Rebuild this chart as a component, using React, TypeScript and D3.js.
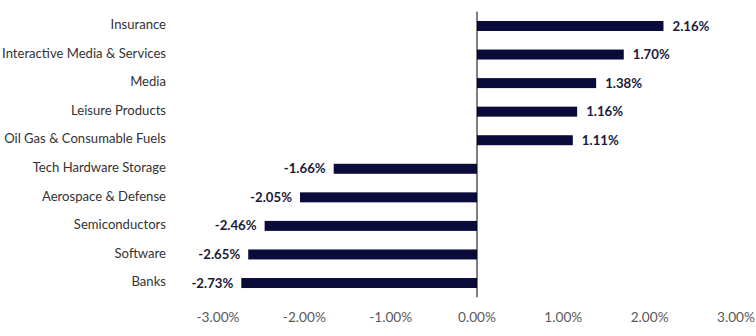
import { useEffect, useRef } from "react";
import * as d3 from "d3";

const categories = [
  "Insurance",
  "Interactive Media & Services",
  "Media",
  "Leisure Products",
  "Oil Gas & Consumable Fuels",
  "Tech Hardware Storage",
  "Aerospace & Defense",
  "Semiconductors",
  "Software",
  "Banks",
];
const returns = [2.16, 1.7, 1.38, 1.16, 1.11, -1.66, -2.05, -2.46, -2.65, -2.73];
const ticks = [-3, -2, -1, 0, 1, 2, 3];

const FONT = "Lato, 'Noto Sans', sans-serif";
const BAR = "#0b0b3b";

// squeeze a group of labels horizontally so the reference string hits a given width
function condense(
  sel: d3.Selection<SVGTextElement, any, SVGGElement, unknown>,
  ref: SVGTextElement | null,
  target: number,
  pos: (d: any) => [number, number]
) {
  const w = ref ? ref.getComputedTextLength() : target;
  const s = w > 0 ? target / w : 1;
  sel.attr("transform", (d) => {
    const [px, py] = pos(d);
    return `translate(${px},${py}) scale(${s},1)`;
  });
}

const App = () => {
  const svgRef = useRef<SVGSVGElement>(null);

  useEffect(() => {
    if (!svgRef.current) return;
    const svg = d3.select(svgRef.current);
    svg.selectAll("*").remove();

    const width = 756;
    const height = 336;

    const x = d3.scaleLinear().domain([-3, 3]).range([218, 736]);
    const y = d3.scaleBand<string>().domain(categories).range([11.7, 297.3]).paddingInner(0.65).paddingOuter(0.325);

    svg.attr("width", width).attr("height", height);

    const rows = categories.map((c, i) => ({ name: c, value: returns[i] }));

    // bars
    svg.append("g")
      .selectAll("rect")
      .data(rows)
      .enter()
      .append("rect")
      .attr("x", (d) => x(Math.min(0, d.value)))
      .attr("y", (d) => y(d.name)!)
      .attr("width", (d) => Math.abs(x(d.value) - x(0)))
      .attr("height", y.bandwidth())
      .attr("fill", BAR);

    // zero line
    svg.append("line")
      .attr("x1", x(0)).attr("x2", x(0))
      .attr("y1", 11.7).attr("y2", 297.3)
      .attr("stroke", "#000")
      .attr("stroke-width", 1);

    // category labels
    const cats = svg.append("g")
      .selectAll<SVGTextElement, any>("text")
      .data(rows)
      .enter()
      .append("text")
      .attr("dy", "0.35em")
      .attr("text-anchor", "end")
      .attr("font-family", FONT)
      .attr("font-size", 13.5)
      .attr("fill", "#333")
      .text((d) => d.name);
    condense(cats, cats.nodes()[1], 164, (d) => [166, y(d.name)! + y.bandwidth() / 2 - 1.5]);

    // value labels
    const vals = svg.append("g")
      .selectAll<SVGTextElement, any>("text")
      .data(rows)
      .enter()
      .append("text")
      .attr("dy", "0.35em")
      .attr("text-anchor", (d) => (d.value >= 0 ? "start" : "end"))
      .attr("font-family", FONT)
      .attr("font-size", 13)
      .attr("font-weight", "bold")
      .attr("fill", "#1a1a3a")
      .text((d) => `${d.value.toFixed(2)}%`);
    condense(vals, vals.nodes()[0], 37, (d) => [
      d.value >= 0 ? x(d.value) + 9 : x(d.value) - 8,
      y(d.name)! + y.bandwidth() / 2,
    ]);

    // x axis tick labels
    const tks = svg.append("g")
      .selectAll<SVGTextElement, any>("text")
      .data(ticks)
      .enter()
      .append("text")
      .attr("dy", "0.35em")
      .attr("text-anchor", "middle")
      .attr("font-family", FONT)
      .attr("font-size", 13)
      .attr("fill", "#595959")
      .text((d) => `${d.toFixed(2)}%`);
    condense(tks, tks.nodes()[0], 43, (d) => [x(d), 317]);
  }, []);

  return <svg ref={svgRef} style={{ position: "absolute", left: 0, top: 0, background: "#fff" }} />;
};

export default App;
